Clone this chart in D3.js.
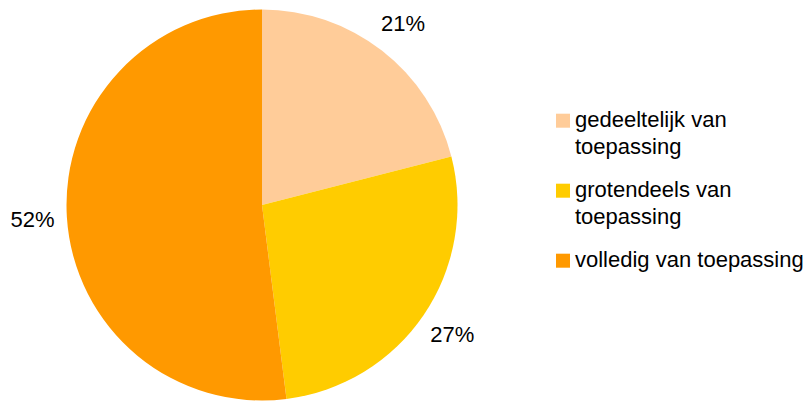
<!DOCTYPE html>
<html>
<head>
<meta charset="utf-8">
<script src="https://cdn.jsdelivr.net/npm/d3@7"></script>
<style>
  html, body { margin: 0; padding: 0; background: #ffffff; }
  svg { display: block; }
  text { font-family: "Liberation Sans", Arial, sans-serif; fill: #000; }
</style>
</head>
<body>
<svg id="chart" width="811" height="401"></svg>
<script>
// Share of application, in percent
const categories = ["gedeeltelijk van toepassing", "grotendeels van toepassing", "volledig van toepassing"];
const legendLines = [["gedeeltelijk van", "toepassing"], ["grotendeels van", "toepassing"], ["volledig van toepassing"]];
const values = [21, 27, 52];
const colors = ["#FFCC99", "#FFCC00", "#FF9900"];

const svg = d3.select("#chart");
const cx = 262, cy = 205, radius = 195.5, labelRadius = 230;

const color = d3.scaleOrdinal().domain(categories).range(colors);

const pie = d3.pie().sort(null).value(d => d.value);
const data = categories.map((c, i) => ({ name: c, value: values[i] }));
const arcs = pie(data);

const arc = d3.arc().innerRadius(0).outerRadius(radius);
const labelArc = d3.arc().innerRadius(labelRadius).outerRadius(labelRadius);

const g = svg.append("g").attr("transform", `translate(${cx},${cy})`);

g.selectAll("path.slice")
  .data(arcs)
  .join("path")
  .attr("class", "slice")
  .attr("d", arc)
  .attr("fill", d => color(d.data.name));

g.selectAll("text.pct")
  .data(arcs)
  .join("text")
  .attr("class", "pct")
  .attr("transform", d => `translate(${labelArc.centroid(d)})`)
  .attr("text-anchor", "middle")
  .attr("dy", "0.36em")
  .style("font-size", "22px")
  .text(d => d.data.value + "%");

// Legend
const legend = svg.append("g").attr("transform", "translate(556,0)");
const groupY = d3.scalePoint().domain(categories).range([126.7, 266.7]);

const items = legend.selectAll("g.item")
  .data(categories)
  .join("g")
  .attr("class", "item")
  .attr("transform", d => `translate(0,${groupY(d)})`);

items.append("rect")
  .attr("x", 0)
  .attr("y", -13)
  .attr("width", 14)
  .attr("height", 14)
  .attr("fill", d => color(d));

items.append("text")
  .attr("x", 19)
  .attr("y", 0)
  .style("font-size", "22px")
  .selectAll("tspan")
  .data((d, i) => legendLines[i])
  .join("tspan")
  .attr("x", 19)
  .attr("dy", (d, i) => i === 0 ? 0 : 27)
  .text(d => d);
</script>
</body>
</html>
